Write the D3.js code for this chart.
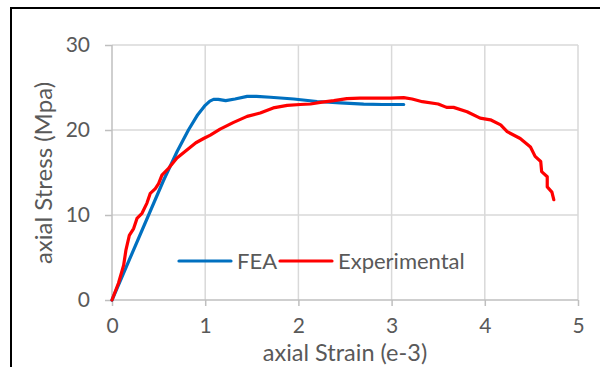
<!DOCTYPE html>
<html>
<head>
<meta charset="utf-8">
<script src="https://cdn.jsdelivr.net/npm/d3@7/dist/d3.min.js"></script>
<style>
  html, body { margin: 0; padding: 0; background: #fff; }
  svg { display: block; }
  text { font-family: Lato, "Open Sans", sans-serif; fill: #595959; }
</style>
</head>
<body>
<svg id="chart" width="600" height="367"></svg>
<script>
// ---- data ----
const xTicks = [0, 1, 2, 3, 4, 5];
const yTicks = [0, 10, 20, 30];
const seriesNames = ["FEA", "Experimental"];
const seriesColors = ["#0070C0", "#FF0000"];

const feaStrain = [0, 0.55, 0.70, 0.82, 0.92, 1.0, 1.05, 1.09, 1.14, 1.22, 1.32, 1.45, 1.55, 1.70, 1.95, 2.20, 2.45, 2.70, 2.90, 3.13];
const feaStress = [0, 14.0, 17.5, 20.0, 21.8, 22.9, 23.4, 23.6, 23.6, 23.45, 23.65, 23.95, 23.95, 23.85, 23.65, 23.35, 23.2, 23.05, 23.0, 23.0];

const expStrain = [0, 0.07, 0.125, 0.15, 0.186, 0.232, 0.268, 0.322, 0.375, 0.411, 0.465, 0.5, 0.536, 0.607, 0.697, 0.82, 0.9, 0.983, 1.055, 1.16, 1.305, 1.45, 1.59, 1.73, 1.88, 2.02, 2.13, 2.235, 2.38, 2.52, 2.66, 2.986, 3.13, 3.22, 3.33, 3.5, 3.59, 3.665, 3.81, 3.95, 4.06, 4.17, 4.24, 4.38, 4.49, 4.54, 4.6, 4.61, 4.67, 4.67, 4.72, 4.74];
const expStress = [0, 2.0, 4.1, 5.9, 7.6, 8.4, 9.6, 10.2, 11.4, 12.55, 13.1, 13.7, 14.7, 15.5, 16.7, 17.8, 18.5, 19.0, 19.4, 20.1, 20.9, 21.6, 22.0, 22.6, 22.9, 23.0, 23.06, 23.25, 23.45, 23.7, 23.75, 23.75, 23.8, 23.65, 23.33, 23.06, 22.66, 22.66, 22.15, 21.4, 21.2, 20.6, 19.8, 19.0, 18.0, 16.9, 16.3, 15.1, 14.5, 13.3, 12.7, 11.8];

const xTitle = "axial Strain (e-3)";
const yTitle = "axial Stress (Mpa)";

// ---- layout ----
const svg = d3.select("#chart");
const x = d3.scaleLinear().domain([0, 5]).range([112, 578]);
const y = d3.scaleLinear().domain([0, 30]).range([300, 45]);

// outer border
svg.append("rect").attr("x", 11).attr("y", 8).attr("width", 600).attr("height", 400)
  .attr("fill", "none").attr("stroke", "#000").attr("stroke-width", 2);

// gridlines
svg.append("g").selectAll("line").data(yTicks.filter(d => d !== 0)).join("line")
  .attr("x1", x(0)).attr("x2", x(5)).attr("y1", d => y(d)).attr("y2", d => y(d))
  .attr("stroke", "#d9d9d9").attr("stroke-width", 1.5);
svg.append("g").selectAll("line").data(xTicks.filter(d => d !== 0)).join("line")
  .attr("x1", d => x(d)).attr("x2", d => x(d)).attr("y1", y(0)).attr("y2", y(30))
  .attr("stroke", "#d9d9d9").attr("stroke-width", 1.5);

// axes
const xAxis = svg.append("g").attr("transform", `translate(0,${y(0)})`)
  .call(d3.axisBottom(x).tickValues(xTicks).tickSize(6).tickPadding(12).tickFormat(d3.format("d")));
const yAxis = svg.append("g").attr("transform", `translate(${x(0)},0)`)
  .call(d3.axisLeft(y).tickValues(yTicks).tickSize(7).tickPadding(15).tickFormat(d3.format("d")));
[xAxis, yAxis].forEach(g => {
  g.select(".domain").attr("stroke", "#bfbfbf").attr("stroke-width", 1.5);
  g.selectAll(".tick line").attr("stroke", "#bfbfbf").attr("stroke-width", 1.5);
  g.selectAll(".tick text").attr("fill", "#595959").style("font-size", "21px")
    .style("font-family", "Lato, 'Open Sans', sans-serif");
});
xAxis.select(".domain").attr("d", `M${x(0)},0H${x(5)}`);
yAxis.select(".domain").attr("d", `M0,${y(0)}V${y(30)}`);

// lines
const line = d3.line().x(d => x(d[0])).y(d => y(d[1]));
const feaData = feaStrain.map((v, i) => [v, feaStress[i]]);
const expData = expStrain.map((v, i) => [v, expStress[i]]);
svg.append("path").datum(feaData).attr("d", line).attr("fill", "none")
  .attr("stroke", seriesColors[0]).attr("stroke-width", 3.2).attr("stroke-linejoin", "round").attr("stroke-linecap", "round");
svg.append("path").datum(expData).attr("d", line).attr("fill", "none")
  .attr("stroke", seriesColors[1]).attr("stroke-width", 3.2).attr("stroke-linejoin", "round").attr("stroke-linecap", "round");

// axis titles
svg.append("text").attr("x", 345).attr("y", 361).attr("text-anchor", "middle")
  .style("font-size", "23.5px").text(xTitle);
svg.append("text").attr("transform", "translate(52,173) rotate(-90)").attr("text-anchor", "middle")
  .style("font-size", "24px").text(yTitle);

// legend
const legend = [
  { name: seriesNames[0], color: seriesColors[0], x1: 179, x2: 231, tx: 237 },
  { name: seriesNames[1], color: seriesColors[1], x1: 280, x2: 332, tx: 338 }
];
const lg = svg.append("g");
legend.forEach(l => {
  lg.append("line").attr("x1", l.x1).attr("x2", l.x2).attr("y1", 261).attr("y2", 261)
    .attr("stroke", l.color).attr("stroke-width", 3.2).attr("stroke-linecap", "round");
  lg.append("text").attr("x", l.tx).attr("y", 269).style("font-size", "22px").text(l.name);
});
</script>
</body>
</html>
